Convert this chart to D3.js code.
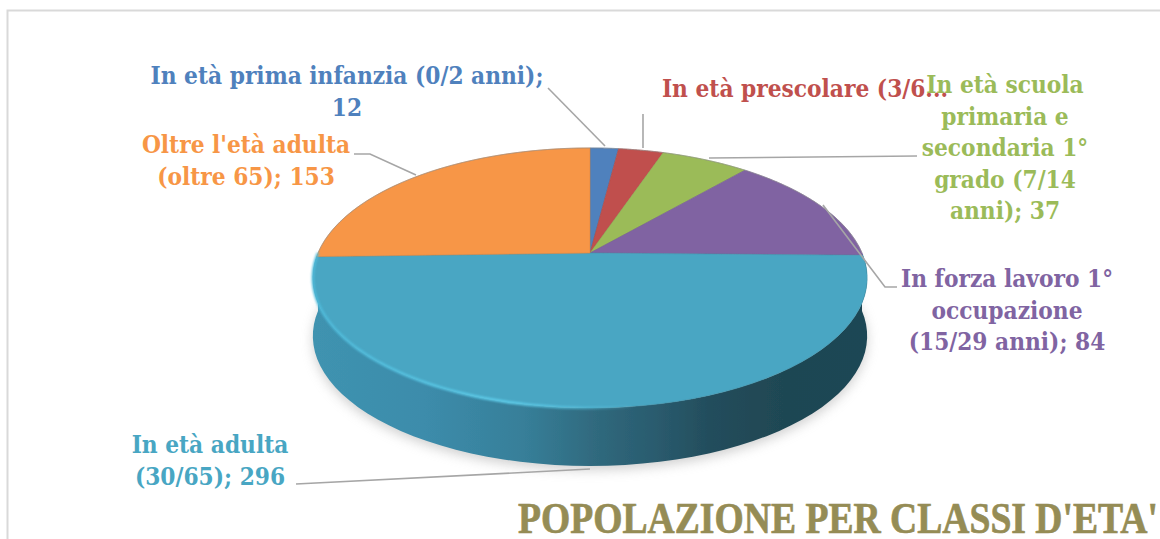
<!DOCTYPE html>
<html><head><meta charset="utf-8">
<script src="https://cdnjs.cloudflare.com/ajax/libs/d3/7.8.5/d3.min.js"></script>
<style>html,body{margin:0;padding:0;background:#fff;overflow:hidden}svg{display:block}
text{font-weight:bold}</style></head><body>
<svg id="c" width="1160" height="539"></svg>
<script>
const categories=["In età prima infanzia (0/2 anni)","In età prescolare (3/6 anni)","In età scuola primaria e secondaria 1° grado (7/14 anni)","In forza lavoro 1° occupazione (15/29 anni)","In età adulta (30/65)","Oltre l'età adulta (oltre 65)"];
const values=[12,19,37,84,296,153];
const colors=["#4f81bd","#c0504d","#9bbb59","#8064a2","#48a6c3","#f79646"];
const labelLines=[["In età prima infanzia (0/2 anni);","12"],["In età prescolare (3/6..."],["In età scuola","primaria e","secondaria 1°","grado (7/14","anni); 37"],["In forza lavoro 1°","occupazione","(15/29 anni); 84"],["In età adulta","(30/65); 296"],["Oltre l'età adulta","(oltre 65); 153"]];
const labelCenters=[[347,84],[805,97],[1005,93],[1007,287],[210,453],[246,153]];
const leaders=[[[548,88],[605,146]],[[643,114],[643,148]],[[709,158],[917,156]],[[823,205],[885,287],[897,287]],[[296,484],[590,469]],[[354,154],[370,154],[416,175]]];
const titleText="POPOLAZIONE PER CLASSI D'ETA'";

const svg=d3.select("#c");
const defs=svg.append("defs");
const cx=590,cy=253,A=272,B=125.2,K=0.192,depth=58;
const project=t=>{const u=Math.sin(t),v=-Math.cos(t),d=1-K*v;return [cx+A*u/d,cy+B*v/d];};
const pieGen=d3.pie().sort(null).value(d=>d);
const arcs=pieGen(values);
const arcPts=(a,b)=>d3.range(0,61).map(i=>project(a+(b-a)*i/60));
const line=d3.line();
const full=arcPts(0,2*Math.PI);

svg.append("path").attr("d","M7.5,539V10.5H1160").attr("fill","none").attr("stroke","#d9d9d9").attr("stroke-width",2);

const blur=(id,s)=>defs.append("filter").attr("id",id).attr("x","-20%").attr("y","-20%").attr("width","140%").attr("height","140%").append("feGaussianBlur").attr("stdDeviation",s);
blur("sh",6);blur("rim",1.3);blur("soft",0.6);

svg.append("path").attr("d",line(full.map(p=>[p[0],p[1]+depth+4]))+"Z").attr("fill","#a8a8a8").attr("opacity",.55).attr("filter","url(#sh)");

const g=defs.append("linearGradient").attr("id","side").attr("gradientUnits","userSpaceOnUse").attr("x1",313).attr("x2",866).attr("y1",0).attr("y2",0);
[[0,"#3f93b0"],[.2,"#3c8cab"],[.38,"#377f99"],[.52,"#2f687c"],[.62,"#2a5b6e"],[.72,"#234d5c"],[.85,"#1f4753"],[1,"#1e4654"]].forEach(s=>g.append("stop").attr("offset",s[0]).attr("stop-color",s[1]));
const pie=svg.append("g").attr("filter","url(#soft)");
const lower=arcPts(Math.PI/2,3*Math.PI/2);
const sidePts=lower.concat(lower.slice().reverse().map(p=>[p[0],p[1]+depth]));
pie.append("path").attr("d",line(sidePts)+"Z").attr("fill","url(#side)");

pie.selectAll("path.s").data(arcs).join("path").attr("class","s")
 .attr("d",d=>line([[cx,cy],...arcPts(d.startAngle,d.endAngle)])+"Z")
 .attr("fill",(d,i)=>colors[i]).attr("stroke",(d,i)=>d3.color(colors[i]).darker(.3)).attr("stroke-width",.6);
pie.append("path").attr("d",line(arcPts(-Math.PI/2,Math.PI/2))).attr("fill","none").attr("stroke","#8f8f8f").attr("stroke-width",.8).attr("opacity",.7);
const rimG=defs.append("linearGradient").attr("id","rimG").attr("gradientUnits","userSpaceOnUse").attr("x1",313).attr("x2",640).attr("y1",0).attr("y2",0);
[[0,"#4fbcdc",1],[.6,"#5fd0ee",1],[.8,"#5fd0ee",.6],[1,"#5fd0ee",0]].forEach(s=>rimG.append("stop").attr("offset",s[0]).attr("stop-color",s[1]).attr("stop-opacity",s[2]));
svg.append("path").attr("d",line(arcPts(Math.PI*0.96,Math.PI*1.5))).attr("fill","none").attr("stroke","url(#rimG)").attr("stroke-width",2.5).attr("filter","url(#rim)");

svg.selectAll("path.l").data(leaders).join("path").attr("class","l").attr("d",d=>line(d)).attr("fill","none").attr("stroke","#a6a6a6").attr("stroke-width",1.6);

labelLines.forEach((ls,i)=>{
 const t=svg.append("text").attr("text-anchor","middle").attr("fill",colors[i]).attr("font-size",24.2).attr("font-family","'DejaVu Serif Condensed','DejaVu Serif',serif").attr("font-stretch","condensed");
 ls.forEach((s,j)=>t.append("tspan").attr("x",labelCenters[i][0]).attr("y",labelCenters[i][1]+j*31.5).text(s));
});
svg.append("text").attr("x",518).attr("y",533).attr("fill","#958c55").attr("stroke","#958c55").attr("stroke-width",.7).attr("font-family","'Liberation Serif',serif").attr("font-size",45).attr("textLength",640).attr("lengthAdjust","spacingAndGlyphs").text(titleText);
</script></body></html>
